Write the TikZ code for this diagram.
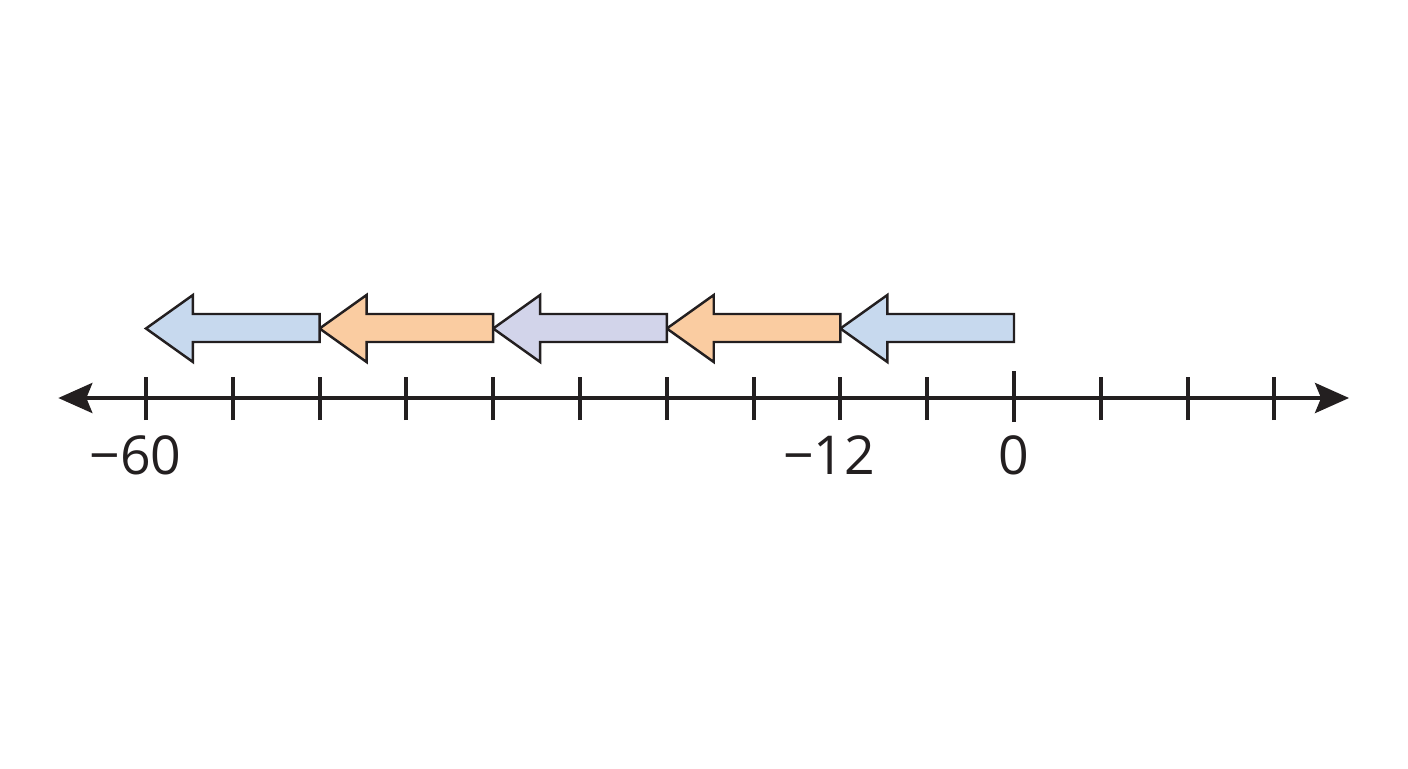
\documentclass[tikz,border=0pt]{standalone}
\usepackage{fontspec}
\setmainfont{Open Sans}
\usetikzlibrary{arrows.meta}
\definecolor{arrowblue}{RGB}{199,217,238}
\definecolor{arrowpeach}{RGB}{250,204,161}
\definecolor{arrowlilac}{RGB}{210,212,234}
\definecolor{ink}{RGB}{35,31,32}
\tikzset{
  jumparrow/.style={draw=ink, line width=1.4pt, line join=miter},
  axisline/.style={draw=ink, line width=2.3pt,
    {Stealth[length=6.8mm, width=6mm, inset=1.2mm]}-{Stealth[length=6.8mm, width=6mm, inset=1.2mm]}},
  tickmark/.style={draw=ink, line width=2.3pt},
  ticklabel/.style={text=ink, font=\fontsize{30.5}{33}\selectfont, inner sep=0pt}
}
\begin{document}
\begin{tikzpicture}[x=1.736cm, y=1cm]
  \useasboundingbox (-11.682,-7.4) rectangle (4.539,7.96);
  % jumps of -12 from 0 down to -60
  \foreach \t/\c in {-2/arrowblue, -4/arrowpeach, -6/arrowlilac, -8/arrowpeach, -10/arrowblue}
    \filldraw[jumparrow, fill=\c] (\t,1.39) -- (\t+0.541,2.06) -- (\t+0.541,1.68)
      -- (\t+2,1.68) -- (\t+2,1.12) -- (\t+0.541,1.12) -- (\t+0.541,0.72) -- cycle;
  % number line
  \coordinate (lineleft) at (-11.01,0);
  \coordinate (lineright) at (3.86,0);
  \draw[axisline] (lineleft) -- (lineright);
  \foreach \k in {-10,...,-1,1,2,3}
    \draw[tickmark] (\k,-0.44) -- (\k,0.42);
  \draw[tickmark] (0,-0.48) -- (0,0.54);
  \node[ticklabel] (labelsixty) at (-10.12,-1.14) {−60};
  \node[ticklabel] (labeltwelve) at (-2.13,-1.14) {−12};
  \node[ticklabel] (labelzero) at (0,-1.14) {0};
\end{tikzpicture}
\end{document}
